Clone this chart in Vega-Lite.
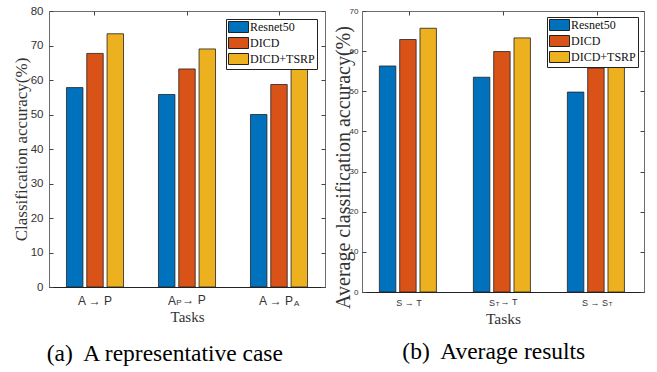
{
  "$schema": "https://vega.github.io/schema/vega-lite/v6.json",
  "padding": {"left": 11, "top": 4, "right": 0, "bottom": 0},
  "background": "white",
  "datasets": {
    "a": [
      {"task": "A→P", "method": "Resnet50", "value": 57.8},
      {"task": "A→P", "method": "DICD", "value": 67.7},
      {"task": "A→P", "method": "DICD+TSRP", "value": 73.4},
      {"task": "AP→P", "method": "Resnet50", "value": 55.8},
      {"task": "AP→P", "method": "DICD", "value": 63.2},
      {"task": "AP→P", "method": "DICD+TSRP", "value": 69.0},
      {"task": "A→PA", "method": "Resnet50", "value": 50.0},
      {"task": "A→PA", "method": "DICD", "value": 58.7},
      {"task": "A→PA", "method": "DICD+TSRP", "value": 64.1}
    ],
    "b": [
      {"task": "S→T", "method": "Resnet50", "value": 56.3},
      {"task": "S→T", "method": "DICD", "value": 62.9},
      {"task": "S→T", "method": "DICD+TSRP", "value": 65.7},
      {"task": "ST→T", "method": "Resnet50", "value": 53.5},
      {"task": "ST→T", "method": "DICD", "value": 59.9},
      {"task": "ST→T", "method": "DICD+TSRP", "value": 63.3},
      {"task": "S→ST", "method": "Resnet50", "value": 49.8},
      {"task": "S→ST", "method": "DICD", "value": 55.8},
      {"task": "S→ST", "method": "DICD+TSRP", "value": 58.0}
    ]
  },
  "spacing": 6,
  "resolve": {"legend": {"color": "independent"}},
  "hconcat": [
    {
      "width": 276,
      "height": 276,
      "title": {"text": "(a)\u00a0 A representative case", "orient": "bottom", "anchor": "middle", "frame": "bounds", "font": "Liberation Serif", "fontSize": 23.5, "fontWeight": "normal", "color": "#000", "offset": 18, "dx": -4},
      "layer": [
        {
          "data": {"name": "a"},
          "mark": {"type": "bar", "stroke": "#222", "strokeWidth": 0.8},
          "encoding": {
            "x": {"field": "task", "type": "nominal", "scale": {"domain": ["A→P", "AP→P", "A→PA"], "paddingInner": 0.38, "paddingOuter": 0.19},
              "axis": {"orient": "bottom", "title": "Tasks", "titleFontSize": 15, "titlePadding": 3, "labelFontSize": 12, "labelPadding": 12, "labelAngle": 0, "tickSize": -4, "domain": true, "domainColor": "#222",
                "labelOffset": {"condition": [{"test": "datum.value == 'A→PA'", "value": -3}, {"test": "datum.value == 'AP→P'", "value": -15}], "value": 0},
                "labelExpr": "datum.value == 'AP→P' ? 'A' : 'A → P'"}},
            "xOffset": {"field": "method", "type": "nominal", "scale": {"domain": ["Resnet50", "DICD", "DICD+TSRP"], "paddingInner": 0.19, "paddingOuter": 0}},
            "y": {"field": "value", "type": "quantitative", "scale": {"domain": [0, 80], "nice": false},
              "axis": {"orient": "left", "values": [0, 10, 20, 30, 40, 50, 60, 70, 80], "title": "Classification accuracy(%)", "titleFontSize": 17, "titlePadding": 0, "labelFontSize": 11.5, "labelPadding": 10, "tickSize": -4}},
            "color": {"field": "method", "type": "nominal", "scale": {"domain": ["Resnet50", "DICD", "DICD+TSRP"], "range": ["#0072BD", "#D95319", "#EDB120"]},
              "legend": {"orient": "top-right", "offset": 8, "title": null}}
          }
        },
        {
          "data": {"name": "a"},
          "mark": {"type": "point", "opacity": 0},
          "encoding": {
            "x": {"field": "task", "type": "nominal", "scale": {"domain": ["A→P", "AP→P", "A→PA"]}, "axis": {"orient": "top", "labels": false, "title": null, "tickSize": -4, "domain": false}},
            "y": {"field": "value", "type": "quantitative", "axis": {"orient": "right", "values": [0, 10, 20, 30, 40, 50, 60, 70, 80], "labels": false, "title": null, "tickSize": -4, "domain": false}}
          }
        },
        {
          "data": {"values": [{"task": "AP→P", "part": "→ P"}]},
          "mark": {"type": "text", "dx": 7, "dy": 8, "baseline": "top", "align": "center", "fontSize": 12, "font": "Liberation Sans", "color": "#333"},
          "encoding": {
            "x": {"field": "task", "type": "nominal", "axis": null},
            "y": {"datum": 0, "type": "quantitative", "axis": null},
            "text": {"field": "part"}
          }
        },
        {
          "data": {"values": [{"task": "AP→P", "sub": "P"}]},
          "mark": {"type": "text", "dx": -8, "dy": 18, "baseline": "alphabetic", "align": "center", "fontSize": 8, "font": "Liberation Sans", "color": "#333"},
          "encoding": {
            "x": {"field": "task", "type": "nominal", "axis": null},
            "y": {"datum": 0, "type": "quantitative", "axis": null},
            "text": {"field": "sub"}
          }
        },
        {
          "data": {"values": [{"task": "A→PA", "sub": "A"}]},
          "mark": {"type": "text", "dx": 17.7, "dy": 19, "baseline": "alphabetic", "align": "center", "fontSize": 8, "font": "Liberation Sans", "color": "#333"},
          "encoding": {
            "x": {"field": "task", "type": "nominal", "axis": null},
            "y": {"datum": 0, "type": "quantitative", "axis": null},
            "text": {"field": "sub"}
          }
        }
      ],
      "resolve": {"axis": {"x": "independent", "y": "independent"}}
    },
    {
      "width": 282,
      "height": 281,
      "title": {"text": "(b)\u00a0 Average results", "orient": "bottom", "anchor": "middle", "frame": "bounds", "font": "Liberation Serif", "fontSize": 23.5, "fontWeight": "normal", "color": "#000", "offset": 13, "dx": 5},
      "layer": [
        {
          "data": {"name": "b"},
          "mark": {"type": "bar", "stroke": "#222", "strokeWidth": 0.8},
          "encoding": {
            "x": {"field": "task", "type": "nominal", "scale": {"domain": ["S→T", "ST→T", "S→ST"], "paddingInner": 0.37, "paddingOuter": 0.185},
              "axis": {"orient": "bottom", "title": "Tasks", "titleFontSize": 15.5, "titlePadding": 4, "labelFontSize": 9, "labelPadding": 10, "labelAngle": 0, "tickSize": -4, "domain": true, "domainColor": "#222",
                "labelOffset": {"condition": [{"test": "datum.value == 'S→ST'", "value": -2}, {"test": "datum.value == 'ST→T'", "value": -11}], "value": 0},
                "labelExpr": "datum.value == 'ST→T' ? 'S' : (datum.value == 'S→ST' ? 'S → S' : 'S → T')"}},
            "xOffset": {"field": "method", "type": "nominal", "scale": {"domain": ["Resnet50", "DICD", "DICD+TSRP"], "paddingInner": 0.19, "paddingOuter": 0}},
            "y": {"field": "value", "type": "quantitative", "scale": {"domain": [0, 70], "nice": false},
              "axis": {"orient": "left", "values": [0, 10, 20, 30, 40, 50, 60, 70], "title": "Average classification accuracy(%)", "titleFontSize": 20, "titlePadding": -4, "titleY": 156, "labelFontSize": 8, "labelPadding": 8, "tickSize": -4}},
            "color": {"field": "method", "type": "nominal", "scale": {"domain": ["Resnet50", "DICD", "DICD+TSRP"], "range": ["#0072BD", "#D95319", "#EDB120"]},
              "legend": {"orient": "top-right", "offset": 6, "title": null}}
          }
        },
        {
          "data": {"name": "b"},
          "mark": {"type": "point", "opacity": 0},
          "encoding": {
            "x": {"field": "task", "type": "nominal", "scale": {"domain": ["S→T", "ST→T", "S→ST"]}, "axis": {"orient": "top", "labels": false, "title": null, "tickSize": -4, "domain": false}},
            "y": {"field": "value", "type": "quantitative", "axis": {"orient": "right", "values": [0, 10, 20, 30, 40, 50, 60, 70], "labels": false, "title": null, "tickSize": -4, "domain": false}}
          }
        },
        {
          "data": {"values": [{"task": "ST→T", "part": "→ T"}]},
          "mark": {"type": "text", "dx": 6, "dy": 6, "baseline": "top", "align": "center", "fontSize": 9, "font": "Liberation Sans", "color": "#333"},
          "encoding": {
            "x": {"field": "task", "type": "nominal", "axis": null},
            "y": {"datum": 0, "type": "quantitative", "axis": null},
            "text": {"field": "part"}
          }
        },
        {
          "data": {"values": [{"task": "ST→T", "sub": "T"}]},
          "mark": {"type": "text", "dx": -5.5, "dy": 13.5, "baseline": "alphabetic", "align": "center", "fontSize": 6, "font": "Liberation Sans", "color": "#333"},
          "encoding": {
            "x": {"field": "task", "type": "nominal", "axis": null},
            "y": {"datum": 0, "type": "quantitative", "axis": null},
            "text": {"field": "sub"}
          }
        },
        {
          "data": {"values": [{"task": "S→ST", "sub": "T"}]},
          "mark": {"type": "text", "dx": 13.5, "dy": 13.5, "baseline": "alphabetic", "align": "center", "fontSize": 6, "font": "Liberation Sans", "color": "#333"},
          "encoding": {
            "x": {"field": "task", "type": "nominal", "axis": null},
            "y": {"datum": 0, "type": "quantitative", "axis": null},
            "text": {"field": "sub"}
          }
        }
      ],
      "resolve": {"axis": {"x": "independent", "y": "independent"}}
    }
  ],
  "config": {
    "font": "Liberation Sans",
    "view": {"stroke": "#6e6e6e", "strokeWidth": 1},
    "axis": {"grid": false, "labelColor": "#333", "titleColor": "#333", "titleFont": "Liberation Serif", "titleFontWeight": "normal", "labelFont": "Liberation Sans", "tickColor": "#444", "tickWidth": 1, "domain": false},
    "legend": {"strokeColor": "#222", "fillColor": "white", "padding": 2, "symbolType": "M-1,-1H2.64V1H-1Z", "symbolSize": 121, "symbolStrokeColor": "#222", "symbolStrokeWidth": 1, "symbolOpacity": 1, "labelFont": "Liberation Serif", "labelFontSize": 12, "labelColor": "#111", "labelOffset": 10, "rowPadding": 0, "labelLimit": 200},
    "title": {"font": "Liberation Serif"}
  }
}
